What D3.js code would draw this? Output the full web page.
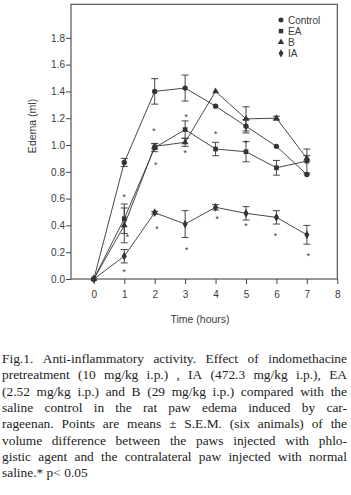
<!DOCTYPE html>
<html><head><meta charset="utf-8">
<script src="https://cdn.jsdelivr.net/npm/d3@7"></script>
<style>body{margin:0;background:#fff;}svg{display:block;}</style>
</head><body>
<svg id="c" width="351" height="495"></svg>
<script>
const times = [0,1,2,3,4,5,6,7];
const control = [0, 0.87, 1.40, 1.425, 1.29, 1.14, 0.99, 0.78];
const controlErr = [0, 0.03, 0.095, 0.097, 0, 0.05, 0, 0];
const ea = [0, 0.45, 0.98, 1.115, 0.97, 0.95, 0.83, 0.88];
const eaErr = [0, 0.11, 0.03, 0.065, 0.05, 0.075, 0.055, 0.09];
const bVals = [0, 0.40, 0.99, 1.02, 1.40, 1.195, 1.20, 0.90];
const bErr = [0, 0.13, 0.02, 0.03, 0, 0.09, 0.015, 0.02];
const ia = [0, 0.17, 0.495, 0.41, 0.535, 0.49, 0.46, 0.33];
const iaErr = [0, 0.05, 0.01, 0.10, 0.02, 0.05, 0.05, 0.07];
const seriesNames = ["Control","EA","B","IA"];
const xTicks = [0,1,2,3,4,5,6,7,8];
const yTicks = [0,0.2,0.4,0.6,0.8,1.0,1.2,1.4,1.6,1.8];
// significance asterisks [time, value]
const starT = [1.0, 1.1, 1.0, 1.97, 2.03, 2.07, 3.03, 3.0, 3.05, 4.0, 4.05, 5.0, 5.0, 5.97, 7.05];
const starV = [0.63, 0.33, 0.065, 1.117, 0.868, 0.386, 1.224, 0.957, 0.234, 1.10, 0.46, 1.03, 0.41, 0.338, 0.187];
const caption = [
 "Fig.1. Anti-inflammatory activity. Effect of indomethacine",
 "pretreatment (10 mg/kg i.p.) , IA (472.3 mg/kg i.p.), EA",
 "(2.52 mg/kg i.p.) and B (29 mg/kg i.p.) compared with the",
 "saline control in the rat paw edema induced by car-",
 "rageenan. Points are means ± S.E.M. (six animals) of the",
 "volume difference between the paws injected with phlo-",
 "gistic agent and the contralateral paw injected with normal",
 "saline.* p< 0.05"
];

const svg = d3.select("#c");
const ink = "#333";
const L = 71, R = 337.3, T = 4.3, B = 279;
const x = d3.scaleLinear().domain([-0.75, 8]).range([L, R]);
const y = d3.scaleLinear().domain([0, 2.05]).range([B, T]);
const font = "'Liberation Sans', Arial, sans-serif";

// frame
svg.append("rect").attr("x", L).attr("y", T).attr("width", R-L).attr("height", B-T)
  .attr("fill","none").attr("stroke","#444").attr("stroke-width",1.1);

const yAx = svg.append("g").attr("transform",`translate(${L},0)`)
  .call(d3.axisLeft(y).tickValues(yTicks).tickFormat(d3.format(".1f")).tickSize(5).tickPadding(1));
const xAx = svg.append("g").attr("transform",`translate(0,${B})`)
  .call(d3.axisBottom(x).tickValues(xTicks).tickFormat(d3.format("d")).tickSize(5).tickPadding(7));
[yAx, xAx].forEach(g => {
  g.select(".domain").remove();
  g.selectAll("line").attr("stroke","#444");
  g.selectAll("text").attr("font-family", font).attr("font-size", 10).attr("fill", "#3a3a3a");
});

svg.append("text").attr("transform","translate(36,126) rotate(-90)")
  .attr("text-anchor","middle").attr("font-family",font).attr("font-size",10.5).attr("fill","#3a3a3a")
  .text("Edema (ml)");
svg.append("text").attr("x",200).attr("y",323).attr("text-anchor","middle")
  .attr("font-family",font).attr("font-size",10.5).attr("fill","#3a3a3a").text("Time (hours)");

const symbols = [d3.symbolCircle, d3.symbolSquare, d3.symbolTriangle, d3.symbolDiamond];
const sizes = [22, 22, 20, 22];
const all = [
  {vals: control, err: controlErr},
  {vals: ea, err: eaErr},
  {vals: bVals, err: bErr},
  {vals: ia, err: iaErr}
];
const line = d3.line().x(d => x(d[0])).y(d => y(d[1]));
const cap = 3.5;
all.forEach((s, si) => {
  const pts = times.map((t,i) => [t, s.vals[i], s.err[i]]);
  const g = svg.append("g");
  g.append("path").attr("d", line(pts)).attr("fill","none").attr("stroke",ink).attr("stroke-width",0.9);
  pts.filter(p => p[2] > 0).forEach(p => {
    const cx = x(p[0]), y1 = y(p[1]+p[2]), y2 = y(p[1]-p[2]);
    g.append("line").attr("x1",cx).attr("x2",cx).attr("y1",y1).attr("y2",y2).attr("stroke",ink).attr("stroke-width",0.9);
    [y1,y2].forEach(yy => g.append("line").attr("x1",cx-cap).attr("x2",cx+cap).attr("y1",yy).attr("y2",yy).attr("stroke",ink).attr("stroke-width",0.9));
  });
  g.selectAll("path.m").data(pts).join("path").attr("class","m")
    .attr("transform", d => `translate(${x(d[0])},${y(d[1])})`)
    .attr("d", d3.symbol().type(symbols[si]).size(sizes[si]))
    .attr("fill", ink);
});

// asterisks
svg.append("g").selectAll("text").data(starT.map((t,i)=>[t, starV[i]])).join("text")
  .attr("x", d => x(d[0])).attr("y", d => y(d[1]) + 5)
  .attr("text-anchor","middle").attr("font-family",font).attr("font-size",8.5).attr("fill","#333")
  .text("*");

// legend
const lg = svg.append("g");
seriesNames.forEach((n,i) => {
  const yy = 20 + i*11.1;
  lg.append("path").attr("transform",`translate(281,${yy})`)
    .attr("d", d3.symbol().type(symbols[i]).size(sizes[i]*0.9)).attr("fill", ink);
  lg.append("text").attr("x",288).attr("y",yy+3.6).attr("font-family",font).attr("font-size",10)
    .attr("fill","#3a3a3a").text(n);
});

// caption, justified
const cx0 = 2, cx1 = 347, base0 = 363, lh = 16.3;
const cg = svg.append("g").attr("font-family","'Liberation Serif','Times New Roman',serif")
  .attr("font-size",13.4).attr("fill","#222");
caption.forEach((ln, li) => {
  const yy = base0 + li*lh;
  if (li === caption.length-1) {
    cg.append("text").attr("x",cx0).attr("y",yy).text(ln);
    return;
  }
  const words = ln.split(" ");
  const nodes = words.map(w => cg.append("text").attr("y",yy).text(w));
  const widths = nodes.map(nd => nd.node().getComputedTextLength());
  const total = widths.reduce((a,b)=>a+b,0);
  const gap = (cx1 - cx0 - total) / (words.length - 1);
  let xx = cx0;
  nodes.forEach((nd,i) => { nd.attr("x", xx); xx += widths[i] + gap; });
});
</script>
</body></html>
